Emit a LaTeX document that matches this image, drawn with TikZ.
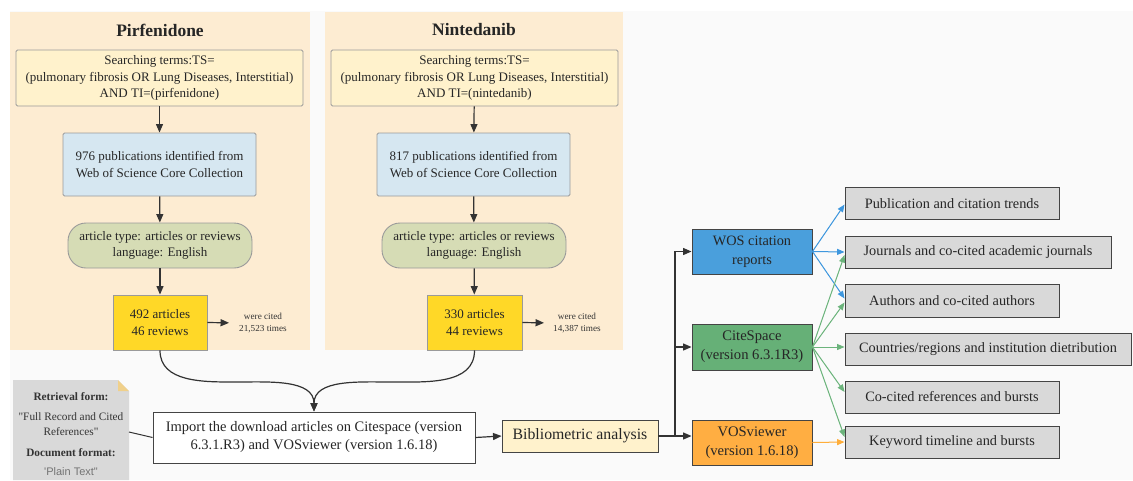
\documentclass[tikz,border=0pt]{standalone}
\usepackage{fontspec}
\setmainfont{Liberation Serif}
\newfontfamily\notefont{Liberation Serif}[Ligatures=TeXOff]
\newfontfamily\notesans{Liberation Sans}[Ligatures=TeXOff]
\usetikzlibrary{arrows.meta,calc}
\definecolor{bgray}{HTML}{FAFAFA}
\definecolor{panel}{HTML}{FDECD2}
\definecolor{searchc}{HTML}{FFF2CC}
\definecolor{pubc}{HTML}{D6E7F1}
\definecolor{filtc}{HTML}{D6DCB5}
\definecolor{goldc}{HTML}{FFD827}
\definecolor{wosc}{HTML}{4A9FDC}
\definecolor{csc}{HTML}{66B077}
\definecolor{vosc}{HTML}{FFAE42}
\definecolor{outc}{HTML}{D9D9D9}
\definecolor{edgegray}{HTML}{9A9A9A}
\definecolor{edgedark}{HTML}{444444}
\definecolor{arrc}{HTML}{333333}
\definecolor{foldc}{HTML}{F0D08A}
\definecolor{bluearr}{HTML}{3E97DE}
\definecolor{greenarr}{HTML}{6CB47C}
\definecolor{orangearr}{HTML}{FFAE3A}
\tikzset{
  x=1pt, y=-1pt,
  lbox/.style={draw=edgegray, line width=0.9pt, align=center, inner sep=0pt, text=black!85, font=\fontsize{13}{16.5}\selectfont},
  dbox/.style={draw=edgedark, line width=0.9pt, align=center, inner sep=0pt, text=black!85},
  outbox/.style={dbox, fill=outc, minimum height=32pt, font=\fontsize{14.3}{16}\selectfont},
  arr/.style={draw=arrc, line width=1.2pt, -{Triangle[length=8.5pt,width=7pt]}},
  plainline/.style={draw=arrc, line width=1.2pt},
  carr/.style={line width=1pt, -{Triangle[length=7.5pt,width=6pt]}},
  ttl/.style={font=\fontsize{17.5}{20}\selectfont\bfseries, text=black!85},
  cited/.style={font=\fontsize{9.2}{11.5}\selectfont, align=center, inner sep=0pt, text=black!80},
  notetxt/.style={font=\fontsize{11.3}{13}\selectfont\notefont, text=black!80, inner sep=0pt}
}
\begin{document}
\begin{tikzpicture}
\useasboundingbox (0,0) rectangle (1133,480);
\fill[white] (0,0) rectangle (1133,480);
\fill[bgray] (10,11) rectangle (1133,480);
% panels
\fill[panel] (10,12) rectangle (310,350);
\fill[panel] (325,12) rectangle (623,350);
\node[ttl] (t1) at (160,30) {Pirfenidone};
\node[ttl] (t2) at (474,30) {Nintedanib};
% Pirfenidone column
\node[lbox, fill=searchc, rounded corners=1.5pt, minimum width=287pt, minimum height=56pt] (s1) at (159.5,78)
  {Searching terms:TS=\\(pulmonary fibrosis OR Lung Diseases, Interstitial)\\AND TI=(pirfenidone)};
\node[lbox, fill=pubc, rounded corners=1.5pt, minimum width=193pt, minimum height=63pt] (p1) at (159.5,164.5)
  {976 publications identified from\\Web of Science Core Collection};
\node[lbox, fill=filtc, rounded corners=18pt, minimum width=184pt, minimum height=45pt] (f1) at (160,245.5)
  {article type: articles or reviews\\language: English};
\node[lbox, fill=goldc, minimum width=94pt, minimum height=55pt] (y1) at (160,322.5)
  {492 articles\\46 reviews};
\node[cited] (c1) at (263,323) {were cited\\21,523 times};
% Nintedanib column
\node[lbox, fill=searchc, rounded corners=1.5pt, minimum width=287pt, minimum height=56pt] (s2) at (474.5,78)
  {Searching terms:TS=\\(pulmonary fibrosis OR Lung Diseases, Interstitial)\\AND TI=(nintedanib)};
\node[lbox, fill=pubc, rounded corners=1.5pt, minimum width=193pt, minimum height=63pt] (p2) at (473.5,164.5)
  {817 publications identified from\\Web of Science Core Collection};
\node[lbox, fill=filtc, rounded corners=18pt, minimum width=184pt, minimum height=45pt] (f2) at (474,245.5)
  {article type: articles or reviews\\language: English};
\node[lbox, fill=goldc, minimum width=95pt, minimum height=55pt] (y2) at (474.5,322.5)
  {330 articles\\44 reviews};
\node[cited] (c2) at (577,323) {were cited\\14,387 times};
% column arrows
\draw[arr] (s1) -- (p1);
\draw[arr] (p1) -- (f1);
\draw[arr] (f1) -- (y1);
\draw[arr, shorten >=10pt] (y1.east) -- (c1.west);
\draw[arr] (s2) -- (p2);
\draw[arr] (p2) -- (f2);
\draw[arr] (f2) -- (y2);
\draw[arr, shorten >=9pt] (y2.east) -- (c2.west);
% import box
\node[dbox, fill=white, minimum width=322pt, minimum height=51pt, font=\fontsize{14.5}{18}\selectfont] (imp) at (314,437.5)
  {Import the download articles on Citespace (version\\6.3.1.R3) and VOSviewer (version 1.6.18)};
\coordinate (m1) at (236,382);
\coordinate (m2) at (392,382);
\draw[arr] (y1.south) to[out=-90,in=180] (m1) to[out=0,in=90] (imp.north);
\draw[arr] (y2.south) to[out=-90,in=0] (m2) to[out=180,in=90] (imp.north);
% note
\fill[outc] (13,380) -- (118,380) -- (129,391) -- (129,480) -- (13,480) -- cycle;
\fill[foldc] (118,380) -- (129,391) -- (118,391) -- cycle;
\node[notetxt, font=\fontsize{11.3}{13}\selectfont\notefont\bfseries] (n1) at (71,397) {Retrieval form:};
\node[notetxt] (n2) at (71,417) {"Full Record and Cited};
\node[notetxt] (n3) at (71,432) {References"};
\node[notetxt, font=\fontsize{11.3}{13}\selectfont\notefont\bfseries] (n4) at (71,453) {Document format:};
\node[notetxt, font=\fontsize{11}{13}\selectfont\notesans, text=black!55] (n5) at (71,472) {'Plain Text"};
\coordinate (noteR) at (129,432);
\draw[draw=arrc, line width=1pt] (noteR) -- (imp.west);
% bibliometric
\node[dbox, fill=searchc, minimum width=156pt, minimum height=32pt, font=\fontsize{15.8}{17}\selectfont] (bib) at (580,436)
  {Bibliometric analysis};
\draw[arr] (imp.east) -- (bib.west);
\node[dbox, fill=wosc, minimum width=120pt, minimum height=45pt, font=\fontsize{14.3}{19}\selectfont] (wos) at (752,251.5)
  {WOS citation\\reports};
\node[dbox, fill=csc, minimum width=120pt, minimum height=46pt, font=\fontsize{14.6}{19}\selectfont] (cs) at (752,347)
  {CiteSpace\\(version 6.3.1R3)};
\node[dbox, fill=vosc, minimum width=120pt, minimum height=45pt, font=\fontsize{14.6}{19}\selectfont] (vos) at (752,442.5)
  {VOSviewer\\(version 1.6.18)};
\coordinate (br) at (675,436);
\draw[plainline] (bib.east) -- (br);
\draw[arr] (br) |- (wos.west);
\draw[arr] (br) |- (cs.west);
\draw[arr] (br) -- (br -| vos.west);
% outputs
\node[outbox, minimum width=214pt] (o1) at (952,203.5) {Publication and citation trends};
\node[outbox, minimum width=266pt] (o2) at (978,252) {Journals and co-cited academic journals};
\node[outbox, minimum width=214pt, minimum height=33pt] (o3) at (952,300.5) {Authors and co-cited authors};
\node[outbox, minimum width=286pt] (o4) at (988,349) {Countries/regions and institution dietribution};
\node[outbox, minimum width=214pt] (o5) at (952,397) {Co-cited references and bursts};
\node[outbox, minimum width=214pt] (o6) at (952,442) {Keyword timeline and bursts};
% colored arrows
\draw[carr, draw=bluearr, fill=bluearr] (wos.east) -- ([yshift=-1pt]o1.west);
\draw[carr, draw=bluearr, fill=bluearr] (wos.east) -- (o2.west);
\draw[carr, draw=bluearr, fill=bluearr] (wos.east) -- ([yshift=2pt]o3.west);
\draw[carr, draw=greenarr, fill=greenarr] (cs.east) -- ([yshift=-3pt]o2.west);
\draw[carr, draw=greenarr, fill=greenarr] (cs.east) -- ([yshift=-2pt]o3.west);
\draw[carr, draw=greenarr, fill=greenarr] (cs.east) -- ([yshift=2pt]o4.west);
\draw[carr, draw=greenarr, fill=greenarr] (cs.east) -- ([yshift=5pt]o5.west);
\draw[carr, draw=greenarr, fill=greenarr] (cs.east) -- ([yshift=5pt]o6.west);
\draw[carr, draw=orangearr, fill=orangearr] (vos.east) -- (o6.west);
\end{tikzpicture}
\end{document}
